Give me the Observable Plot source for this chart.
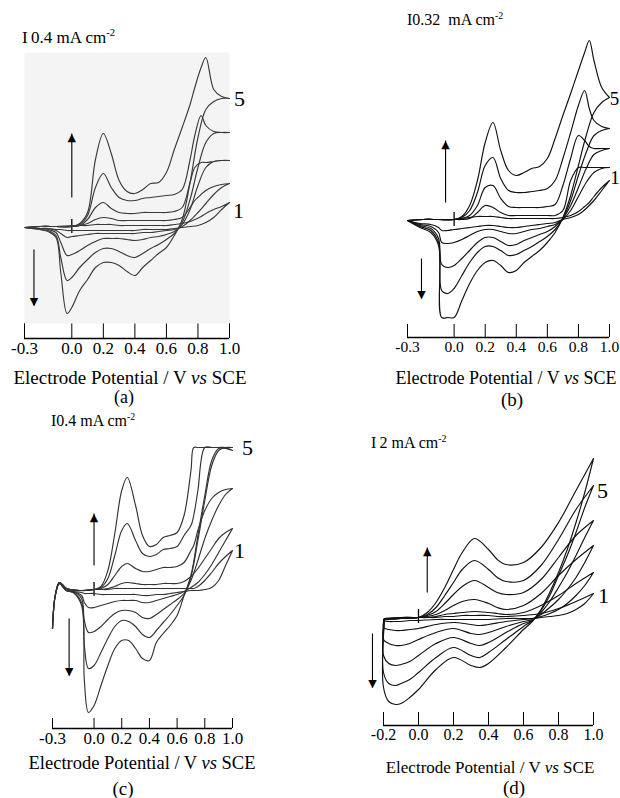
<!DOCTYPE html>
<html><head><meta charset="utf-8">
<script src="https://cdn.jsdelivr.net/npm/d3@7"></script>
<script src="https://cdn.jsdelivr.net/npm/@observablehq/plot@0.6"></script>
<style>
html,body{margin:0;padding:0;background:#fff;}
#fig{position:relative;width:620px;height:798px;overflow:hidden;font-family:"Liberation Serif","DejaVu Serif","Times New Roman",serif;color:#000;}
.panel{position:absolute;}
.panel svg{background:transparent;}
.txt{position:absolute;white-space:pre;line-height:1;}
.c{transform:translate(-50%,-50%);}
.l{transform:translate(0,-50%);}
sup{font-size:0.62em;vertical-align:0.6em;line-height:0;}
</style></head><body><div id="fig"></div>
<script>
// ---------- DATA (currents in arbitrary units; baseline = 0) ----------
const cycles = ["1","2","3","4","5"];
const xTicksABC = [-0.3, 0.0, 0.2, 0.4, 0.6, 0.8, 1.0];
const xTicksD = [-0.2, 0.0, 0.2, 0.4, 0.6, 0.8, 1.0];

// Panel (a)
const aAnodicV = [-0.3,-0.2,-0.1,0,0.05,0.1,0.15,0.2,0.25,0.3,0.35,0.4,0.45,0.5,0.55,0.6,0.65,0.7,0.75,0.78,0.82,0.85,0.9,0.95,1.0];
const aAnodicI = [
  [0,1,1,2,2,2,3,3,3,2,2,2,2,2,2,2,3,4,6,8,11,14,18,21,25],
  [0,1,1,1,2,4,8,10,9,7,7,7,7,7,7,7,8,10,20,27,33,37,41,43,44],
  [0,1,1,1,2,8,20,25,19,15,14,14,15,15,15,15,16,20,45,60,65,65,66,67,67],
  [0,1,1,1,3,12,40,54,40,30,27,27,29,30,31,32,33,38,68,92,112,102,96,95,95],
  [0,1,1,1,4,15,68,94,74,47,36,34,38,44,45,55,78,100,123,140,160,170,138,131,129]
];
const aCathodicV = [1.0,0.95,0.9,0.85,0.8,0.75,0.7,0.65,0.6,0.55,0.5,0.45,0.4,0.35,0.3,0.25,0.2,0.15,0.1,0.05,0.0,-0.03,-0.07,-0.1,-0.15,-0.2,-0.3];
const aCathodicI = [
  [25,18,10,5,2,1,0,-1,-2,-2,-2,-2,-3,-3,-3,-3,-3,-3,-3,-3,-3,-3,-2,-2,-1,-1,0],
  [44,40,33,24,15,7,1,-2,-3,-4,-5,-5,-6,-6,-6,-6,-6,-6,-7,-8,-9,-10,-6,-3,-1,-1,0],
  [67,67,66,60,42,18,3,-4,-7,-9,-10,-12,-13,-12,-11,-11,-11,-14,-18,-23,-27,-28,-15,-5,-2,-1,0],
  [95,95,94,85,60,28,5,-6,-12,-17,-21,-26,-30,-28,-24,-21,-21,-25,-32,-40,-50,-53,-30,-8,-3,-2,0],
  [129,129,126,118,90,45,8,-8,-20,-26,-33,-40,-48,-44,-38,-35,-35,-40,-52,-63,-80,-86,-45,-10,-4,-2,0]
];

// Panel (b)
const bAnodicV = [-0.3,-0.2,-0.1,0,0.05,0.1,0.15,0.2,0.25,0.3,0.35,0.4,0.45,0.5,0.55,0.6,0.65,0.7,0.75,0.8,0.84,0.87,0.9,0.95,1.0];
const bAnodicI = [
  [0,1,1,1,2,3,4,4,4,3,2,2,2,2,2,2,2,3,5,9,14,18,24,33,40],
  [0,1,1,1,1,2,8,15,13,8,5,5,5,5,5,5,5,10,40,53,53,53,53,53,53],
  [0,1,1,1,2,5,15,33,35,22,14,13,13,13,13,14,16,35,62,85,80,74,72,72,72],
  [0,1,1,1,3,10,28,55,63,42,30,28,28,29,30,32,40,62,88,115,130,112,100,94,92],
  [0,1,1,1,4,15,40,78,98,70,50,45,48,52,54,62,82,105,127,150,168,180,160,133,123]
];
const bCathodicV = [1.0,0.95,0.9,0.85,0.8,0.75,0.7,0.65,0.6,0.55,0.5,0.45,0.4,0.35,0.3,0.25,0.2,0.15,0.1,0.05,0.0,-0.04,-0.08,-0.1,-0.15,-0.22,-0.3];
const bCathodicI = [
  [40,30,20,12,6,3,1,-2,-3,-4,-5,-6,-7,-7,-6,-5,-5,-6,-7,-8,-9,-10,-10,-7,-4,-3,0],
  [53,52,48,38,24,10,1,-4,-6,-8,-9,-11,-13,-13,-11,-9,-9,-11,-15,-19,-22,-23,-22,-12,-6,-4,0],
  [72,70,66,52,33,15,2,-6,-11,-14,-17,-20,-24,-25,-21,-17,-17,-22,-30,-38,-45,-47,-44,-18,-8,-5,0],
  [92,90,85,68,45,20,2,-9,-16,-21,-26,-30,-34,-35,-30,-26,-26,-32,-42,-55,-68,-73,-70,-22,-10,-6,0],
  [123,118,108,85,55,25,3,-12,-22,-30,-36,-42,-50,-52,-45,-40,-42,-50,-63,-80,-97,-97,-97,-25,-12,-7,0]
];

// Panel (c)
const cAnodicV = [-0.3,-0.28,-0.25,-0.2,-0.1,0,0.05,0.1,0.15,0.2,0.24,0.3,0.35,0.4,0.45,0.5,0.55,0.6,0.65,0.7,0.72,0.75,0.8,0.85,0.9,0.95,1.0];
const cAnodicI = [
  [-38,-5,8,2,0,1,1,1,2,2,2,2,2,2,2,2,2,2,2,2,2,4,10,18,27,34,40],
  [-38,-5,8,2,0,1,1,2,4,7,8,7,6,6,6,7,7,7,9,14,17,22,32,42,52,58,62],
  [-38,-5,8,2,0,1,2,6,15,24,27,22,19,19,21,23,23,24,28,40,45,60,80,92,98,101,102],
  [-38,-5,8,2,0,1,3,12,35,60,67,50,37,34,36,41,42,44,55,65,75,100,143,143,143,143,143],
  [-38,-5,8,2,0,1,4,20,57,100,113,85,55,44,46,53,55,58,75,120,143,143,143,143,143,143,140]
];
const cCathodicV = [1.0,0.95,0.9,0.85,0.8,0.75,0.7,0.65,0.6,0.55,0.5,0.45,0.4,0.35,0.3,0.25,0.2,0.15,0.1,0.05,0.0,-0.04,-0.07,-0.09,-0.15,-0.2,-0.25,-0.28,-0.3];
const cCathodicI = [
  [40,25,10,3,1,0,0,-1,-2,-3,-4,-4,-5,-5,-4,-4,-4,-4,-4,-4,-3,-3,-3,-2,-1,0,7,-5,-38],
  [62,50,38,26,16,8,3,-1,-4,-6,-8,-10,-12,-12,-10,-10,-10,-11,-13,-15,-17,-17,-12,-5,-1,0,7,-5,-38],
  [102,96,85,70,52,30,10,-3,-9,-14,-19,-24,-28,-27,-22,-20,-20,-23,-29,-36,-41,-42,-30,-8,-1,0,7,-5,-38],
  [143,143,140,125,90,50,14,-5,-15,-24,-32,-40,-47,-44,-36,-31,-30,-36,-48,-62,-75,-78,-55,-12,-2,0,7,-5,-38],
  [140,142,142,130,95,55,15,-5,-25,-35,-43,-52,-70,-68,-58,-50,-50,-58,-75,-95,-115,-122,-90,-15,-2,0,7,-5,-38]
];

// Panel (d)
const dAnodicV = [-0.195,-0.1,0.0,0.05,0.1,0.15,0.2,0.25,0.32,0.4,0.45,0.5,0.6,0.7,0.8,0.9,1.0];
const dAnodicI = [
  [-1,0,0,0,0,1,1,2,2,2,1,1,2,4,9,16,24],
  [-1,0,0,0,1,3,4,5,6,5,4,3,5,12,22,34,45],
  [-1,0,0,1,3,7,12,16,18,14,10,8,12,24,42,58,72],
  [-2,-1,0,2,6,14,23,31,37,30,25,23,25,38,60,82,97],
  [-2,-1,0,3,10,22,35,48,57,48,40,36,37,52,78,108,132],
  [-2,-1,0,5,15,30,48,65,79,68,58,53,55,70,95,127,159]
];
const dCathodicV = [1.0,0.95,0.9,0.85,0.8,0.75,0.7,0.65,0.6,0.5,0.4,0.35,0.3,0.2,0.1,0.0,-0.05,-0.1,-0.13,-0.17,-0.2];
const dCathodicI = [
  [24,14,8,4,2,1,0,-1,-1,-1,-2,-2,-2,-2,-2,-3,-3,-4,-4,-4,-3],
  [45,32,22,14,8,4,1,-1,-2,-4,-7,-8,-7,-5,-7,-11,-12,-13,-13,-12,-10],
  [72,55,40,28,18,10,3,-2,-4,-9,-15,-17,-16,-11,-15,-22,-26,-28,-28,-26,-22],
  [97,80,62,45,30,16,5,-3,-6,-15,-25,-28,-26,-20,-26,-38,-44,-47,-48,-46,-38],
  [132,110,85,62,42,22,7,-3,-9,-22,-35,-40,-38,-30,-40,-55,-62,-66,-68,-66,-55],
  [159,125,95,68,45,25,8,-4,-12,-30,-46,-50,-48,-40,-52,-72,-80,-86,-87,-84,-70]
];

// sweep-direction arrows (potential, start current, end current)
const arrowsA = [{x:0.0, y1:30, y2:94}, {x:-0.24, y1:-22, y2:-78}];
const arrowsB = [{x:-0.055, y1:18, y2:80}, {x:-0.21, y1:-38, y2:-78}];
const arrowsC = [{x:0.0, y1:25, y2:77}, {x:-0.18, y1:-28, y2:-85}];
const arrowsD = [{x:0.05, y1:25, y2:70}, {x:-0.263, y1:-16, y2:-70}];

// cycle labels
const labelsA = [{t:"5", x:1.063, y:129}, {t:"1", x:1.057, y:17}];
const labelsB = [{t:"5", x:1.032, y:122}, {t:"1", x:1.036, y:43}];
const labelsC = [{t:"5", x:1.108, y:143}, {t:"1", x:1.051, y:40}];
const labelsD = [{t:"5", x:1.051, y:127}, {t:"1", x:1.057, y:22}];

const scaleTexts = {a:"0.4 mA cm", b:"0.32  mA cm", c:"0.4 mA cm", d:"2 mA cm"};
const originMark = [-6, 8];

// ---------- LAYOUT ----------
const SERIF = '"Liberation Serif","DejaVu Serif","Times New Roman",serif';
const panels = [
  {key:"a", left:0, top:0, width:310, height:400, mL:24, mR:81, mT:52, mB:77, tick:15, tickFont:17, labelFont:22,
   xDomain:[-0.3,1.0], yDomain:[-96,175], ticks:xTicksABC, stroke:"#3a3a3a", bg:"#f4f4f4",
   aV:aAnodicV, aI:aAnodicI, cV:aCathodicV, cI:aCathodicI, arrows:arrowsA, labels:labelsA},
  {key:"b", left:310, top:0, width:310, height:400, mL:97, mR:11, mT:30, mB:76, tick:13, tickFont:15.5, labelFont:19,
   xDomain:[-0.3,1.0], yDomain:[-104,190], ticks:xTicksABC, stroke:"#111", bg:null,
   aV:bAnodicV, aI:bAnodicI, cV:bCathodicV, cI:bCathodicI, arrows:arrowsB, labels:labelsB},
  {key:"c", left:0, top:400, width:310, height:398, mL:52, mR:78, mT:30, mB:80, tick:10, tickFont:17, labelFont:22,
   xDomain:[-0.3,1.0], yDomain:[-128,160], ticks:xTicksABC, stroke:"#333", bg:null,
   aV:cAnodicV, aI:cAnodicI, cV:cCathodicV, cI:cCathodicI, arrows:arrowsC, labels:labelsC},
  {key:"d", left:310, top:400, width:310, height:398, mL:73, mR:27, mT:40, mB:86, tick:13, tickFont:16, labelFont:22,
   xDomain:[-0.2,1.0], yDomain:[-95,177], ticks:xTicksD, stroke:"#111", bg:null,
   aV:dAnodicV, aI:dAnodicI, cV:dCathodicV, cI:dCathodicI, arrows:arrowsD, labels:labelsD}
];

const htmlText = [
  {key:"a", kind:"scale", x:22, y:37, size:17},
  {key:"b", kind:"scale", x:407, y:20, size:16},
  {key:"c", kind:"scale", x:51, y:421, size:16},
  {key:"d", kind:"scale", x:371, y:443, size:16},
  {key:"a", kind:"title", x:130, y:377, size:19},
  {key:"b", kind:"title", x:506, y:378, size:18},
  {key:"c", kind:"title", x:142, y:763, size:18.5},
  {key:"d", kind:"title", x:490, y:767, size:17},
  {key:"a", kind:"letter", x:124, y:397, size:18},
  {key:"b", kind:"letter", x:512, y:399, size:19},
  {key:"c", kind:"letter", x:123, y:788, size:19},
  {key:"d", kind:"letter", x:514, y:787, size:19}
];

function loopRows(aV, aI, cV, cI) {
  const rows = [];
  aI.forEach((series, k) => {
    const pts = aV.map((v, i) => ({V: v, I: series[i]}))
      .concat(cV.map((v, i) => ({V: v, I: cI[k][i]})));
    pts.push(pts[0]);
    pts.forEach(p => rows.push({cycle: k + 1, V: p.V, I: p.I}));
  });
  return rows;
}

const fig = document.getElementById("fig");
for (const p of panels) {
  const rows = loopRows(p.aV, p.aI, p.cV, p.cI);
  const up = p.arrows.filter(d => d.y2 > d.y1);
  const down = p.arrows.filter(d => d.y2 < d.y1);
  const svg = Plot.plot({
    width: p.width, height: p.height,
    marginLeft: p.mL, marginRight: p.mR, marginTop: p.mT, marginBottom: p.mB,
    style: {fontFamily: SERIF, fontSize: p.tickFont + "px", background: "transparent", color: "#000"},
    x: {domain: p.xDomain, ticks: p.ticks, tickSize: p.tick, tickPadding: 3,
        tickFormat: d => d.toFixed(1), label: null},
    y: {domain: p.yDomain, axis: null},
    marks: [
      p.bg ? Plot.frame({fill: p.bg, stroke: "none"}) : null,
      Plot.ruleY([p.yDomain[0]], {dy: p.tick, stroke: "#000", strokeWidth: 1.3}),
      Plot.ruleX([0], {y1: originMark[0], y2: originMark[1], stroke: "#000", strokeWidth: 1.3}),
      Plot.line(rows, {x: "V", y: "I", z: "cycle", curve: "catmull-rom", stroke: p.stroke, strokeWidth: 1.15}),
      Plot.link(p.arrows, {x1: "x", x2: "x", y1: "y1", y2: "y2", stroke: "#000", strokeWidth: 1.1}),
      Plot.text(up, {x: "x", y: "y2", text: () => "\u25B2", dy: 4, fontSize: 11, fontFamily: "DejaVu Sans", fill: "#000"}),
      Plot.text(down, {x: "x", y: "y2", text: () => "\u25BC", dy: -4, fontSize: 11, fontFamily: "DejaVu Sans", fill: "#000"}),
      Plot.text(p.labels, {x: "x", y: "y", text: "t", fontSize: p.labelFont, fontFamily: SERIF, fill: "#000"})
    ]
  });
  const div = document.createElement("div");
  div.className = "panel";
  div.style.left = p.left + "px";
  div.style.top = p.top + "px";
  div.appendChild(svg);
  fig.appendChild(div);
}

const letters = {a:"(a)", b:"(b)", c:"(c)", d:"(d)"};
for (const t of htmlText) {
  const el = document.createElement("div");
  el.className = "txt " + (t.kind === "scale" ? "l" : "c");
  el.style.left = t.x + "px";
  el.style.top = t.y + "px";
  el.style.fontSize = t.size + "px";
  if (t.kind === "scale") {
    el.innerHTML = 'I' + (t.key === "a" || t.key === "d" ? '\u2009' : '') + scaleTexts[t.key] + '<sup>-2</sup>';
  } else if (t.kind === "title") {
    el.innerHTML = 'Electrode Potential / V <i>vs</i> SCE';
  } else {
    el.textContent = letters[t.key];
  }
  fig.appendChild(el);
}
</script></body></html>
